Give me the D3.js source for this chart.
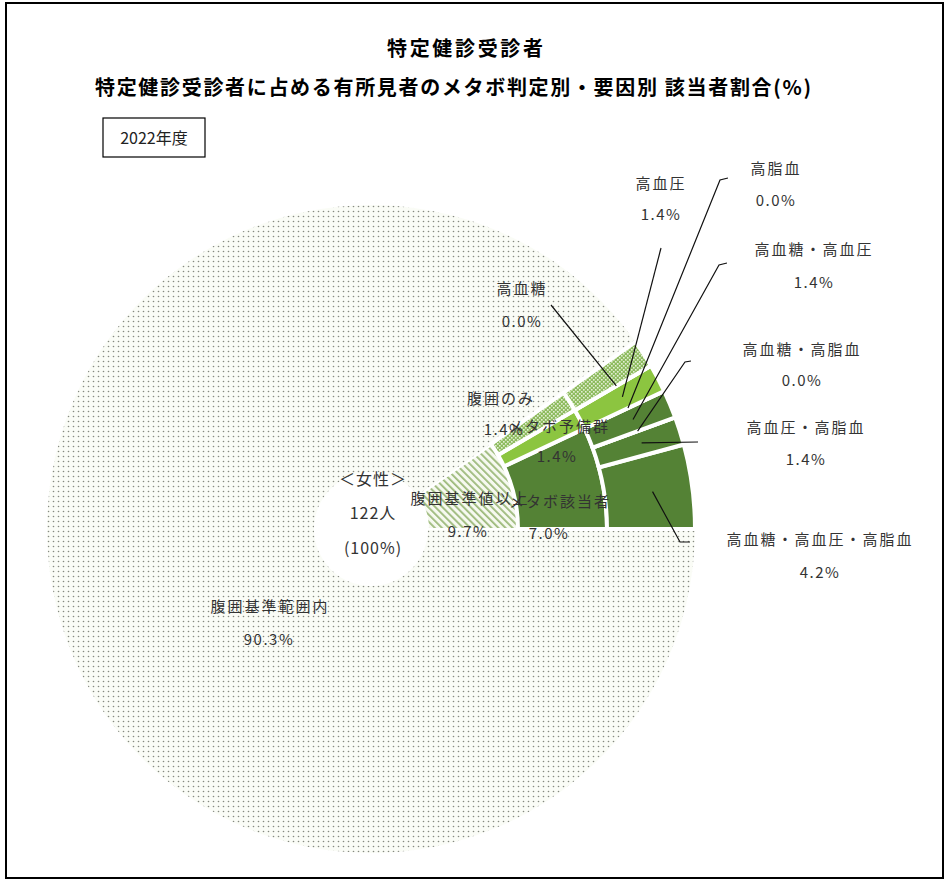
<!DOCTYPE html>
<html>
<head>
<meta charset="utf-8">
<script src="https://cdn.jsdelivr.net/npm/d3@7"></script>
<style>
  body { margin: 0; background: #fff; }
  text { font-family: "Noto Sans CJK JP", "Noto Sans", sans-serif; }
</style>
</head>
<body>
<svg id="chart" width="947" height="881"></svg>
<script>
// ---- data ----
const titleMain = "特定健診受診者";
const titleSub = "特定健診受診者に占める有所見者のメタボ判定別・要因別 該当者割合(%)";
const yearLabel = "2022年度";
const centerLines = ["＜女性＞", "122人", "(100%)"];

// inner ring: waist circumference
const waistCategories = ["腹囲基準値以上", "腹囲基準範囲内"];
const waistValues = [9.7, 90.3];

// middle ring: metabolic syndrome judgement
const judgeCategories = ["メタボ該当者", "メタボ予備群", "腹囲のみ"];
const judgeValues = [7.0, 1.4, 1.4];

// outer ring: risk factor breakdown
const factorCategories = ["高血糖・高血圧・高脂血", "高血圧・高脂血", "高血糖・高脂血", "高血糖・高血圧",
                          "高脂血", "高血圧", "高血糖", "腹囲のみ"];
const factorValues = [4.2, 1.4, 0.0, 1.4, 0.0, 1.4, 0.0, 1.4];
const factorGroups = ["メタボ該当者", "メタボ該当者", "メタボ該当者", "メタボ該当者",
                      "メタボ予備群", "メタボ予備群", "メタボ予備群", "腹囲のみ"];

// ---- layout ----
const cx = 371, cy = 529;
const rHole = 57, r1 = 147, r2 = 236, r3 = 324;

const svg = d3.select("#chart");
const defs = svg.append("defs");

// fine dot fill
const pDots = defs.append("pattern").attr("id", "dots").attr("patternUnits", "userSpaceOnUse")
  .attr("width", 5).attr("height", 5);
pDots.append("rect").attr("width", 5).attr("height", 5).attr("fill", "#fafcf6");
pDots.append("circle").attr("cx", 2.5).attr("cy", 2.5).attr("r", 0.8).attr("fill", "#85897f");

// diagonal hatch
const pHatch = defs.append("pattern").attr("id", "hatch").attr("patternUnits", "userSpaceOnUse")
  .attr("width", 5).attr("height", 5).attr("patternTransform", "rotate(-45)");
pHatch.append("rect").attr("width", 5).attr("height", 5).attr("fill", "#f6f9f0");
pHatch.append("rect").attr("x", 0).attr("y", 0).attr("width", 1.8).attr("height", 5).attr("fill", "#9cb97a");

// small checker fill
const pCheck = defs.append("pattern").attr("id", "check").attr("patternUnits", "userSpaceOnUse")
  .attr("width", 4).attr("height", 4);
pCheck.append("rect").attr("width", 4).attr("height", 4).attr("fill", "#8dbb5e");
pCheck.append("rect").attr("x", 0).attr("y", 0).attr("width", 1.6).attr("height", 1.6).attr("fill", "#e3efd4");
pCheck.append("rect").attr("x", 2).attr("y", 2).attr("width", 1.6).attr("height", 1.6).attr("fill", "#e3efd4");

const groupFill = {
  "メタボ該当者": "#548235",
  "メタボ予備群": "#8cc540",
  "腹囲のみ": "url(#check)"
};

// frame
svg.append("rect").attr("x", 6).attr("y", 3).attr("width", 937).attr("height", 875)
  .attr("fill", "#fff").attr("stroke", "#000").attr("stroke-width", 2);

// titles
svg.append("text").attr("x", 465).attr("y", 47).attr("text-anchor", "middle")
  .attr("dominant-baseline", "central").attr("font-size", 20).attr("font-weight", "bold")
  .attr("fill", "#000").attr("textLength", 156).attr("lengthAdjust", "spacing").text(titleMain);
svg.append("text").attr("x", 453).attr("y", 86).attr("text-anchor", "middle")
  .attr("dominant-baseline", "central").attr("font-size", 20).attr("font-weight", "bold")
  .attr("fill", "#000").attr("textLength", 716).attr("lengthAdjust", "spacing").text(titleSub);

// year box
svg.append("rect").attr("x", 103).attr("y", 118).attr("width", 102).attr("height", 39)
  .attr("fill", "#fff").attr("stroke", "#000").attr("stroke-width", 1.2);
svg.append("text").attr("x", 154).attr("y", 137).attr("text-anchor", "middle")
  .attr("dominant-baseline", "central").attr("font-size", 16).attr("fill", "#222").text(yearLabel);

// angles: start at 3 o'clock, run counter-clockwise
const pie = d3.pie().sort(null).value(d => d.v)
  .startAngle(Math.PI / 2).endAngle(Math.PI / 2 - 2 * Math.PI);

const withRest = (cats, vals) => {
  const items = cats.map((c, i) => ({ name: c, v: vals[i], i }));
  items.push({ name: null, v: 100 - d3.sum(vals), rest: true });
  return items;
};

const ring1 = pie(waistCategories.map((c, i) => ({ name: c, v: waistValues[i], i })));
const ring2 = pie(withRest(judgeCategories, judgeValues)).filter(d => !d.data.rest);
const ring3 = pie(withRest(factorCategories, factorValues)).filter(d => !d.data.rest);

const g = svg.append("g").attr("transform", `translate(${cx},${cy})`);

// inner ring (the in-range slice spans the full radius)
const arcBig = d3.arc().innerRadius(rHole).outerRadius(r3);
const arcR1 = d3.arc().innerRadius(rHole).outerRadius(r1);
g.append("path").attr("d", arcBig(ring1[1])).attr("fill", "url(#dots)");
g.append("path").attr("d", arcR1(ring1[0])).attr("fill", "url(#hatch)")
  .attr("stroke", "#fff").attr("stroke-width", 2);

// middle ring
const arcR2 = d3.arc().innerRadius(r1).outerRadius(r2);
g.selectAll("path.r2").data(ring2).join("path").attr("class", "r2")
  .attr("d", arcR2)
  .attr("fill", d => groupFill[d.data.name])
  .attr("stroke", "#fff").attr("stroke-width", 4).attr("stroke-linejoin", "miter");

// outer ring
const arcR3 = d3.arc().innerRadius(r2).outerRadius(r3);
g.selectAll("path.r3").data(ring3).join("path").attr("class", "r3")
  .attr("d", arcR3)
  .attr("fill", d => groupFill[factorGroups[d.data.i]])
  .attr("stroke", "#fff").attr("stroke-width", 4).attr("stroke-linejoin", "miter");

// ---- labels ----
const fmt = v => d3.format(".1f")(v) + "%";
const labelColor = "#333";
function twoLine(x, y, name, value, gap = 32) {
  const t = svg.append("g");
  t.append("text").attr("x", x).attr("y", y).attr("text-anchor", "middle")
    .attr("dominant-baseline", "central").attr("font-size", 15).attr("letter-spacing", 2)
    .attr("fill", labelColor).text(name);
  t.append("text").attr("x", x).attr("y", y + gap).attr("text-anchor", "middle")
    .attr("dominant-baseline", "central").attr("font-size", 15).attr("letter-spacing", 1.5)
    .attr("fill", labelColor).text(value);
}

// center
[478, 512, 547].forEach((y, i) => {
  svg.append("text").attr("x", 373).attr("y", y).attr("text-anchor", "middle")
    .attr("dominant-baseline", "central").attr("font-size", 16).attr("letter-spacing", 1)
    .attr("fill", labelColor).text(centerLines[i]);
});

// ring label positions (layout only)
const innerLabelPos = {
  "腹囲基準範囲内": [270, 605],
  "メタボ該当者": [560, 500],
  "腹囲基準値以上": [470, 497],
  "メタボ予備群": [559, 425],
  "腹囲のみ": [501, 397]
};
const valuePos = {
  "腹囲基準範囲内": [269, 638],
  "メタボ該当者": [549, 532],
  "腹囲基準値以上": [468, 530],
  "メタボ予備群": [557, 455],
  "腹囲のみ": [504, 428]
};
function innerLabel(name, value) {
  const [x, y] = innerLabelPos[name];
  const [vx, vy] = valuePos[name];
  svg.append("text").attr("x", x).attr("y", y).attr("text-anchor", "middle")
    .attr("dominant-baseline", "central").attr("font-size", 15).attr("letter-spacing", 2)
    .attr("fill", labelColor).text(name);
  svg.append("text").attr("x", vx).attr("y", vy).attr("text-anchor", "middle")
    .attr("dominant-baseline", "central").attr("font-size", 15).attr("letter-spacing", 1.5)
    .attr("fill", labelColor).text(fmt(value));
}
innerLabel(waistCategories[1], waistValues[1]);
judgeCategories.forEach((c, i) => innerLabel(c, judgeValues[i]));
innerLabel(waistCategories[0], waistValues[0]);

// outer labels with leader lines
const outerLabelPos = [
  { x: 820, y: 538, hook: [[690, 542], [680, 542]], gap: 33 },
  { x: 806, y: 426, hook: [[698, 442]], gap: 32 },
  { x: 802, y: 348, hook: [[691, 361], [685, 362]], gap: 31 },
  { x: 814, y: 248, hook: [[727, 263], [719, 265]], gap: 33 },
  { x: 776, y: 167, hook: [[728, 178], [720, 180]], gap: 32 },
  { x: 661, y: 182, hook: [[661, 248]], gap: 31 },
  { x: 522, y: 287, hook: [[551, 305]], gap: 33 }
];
const arcLeader = d3.arc().innerRadius(284).outerRadius(284);
const line = d3.line();
ring3.slice(0, 7).forEach((d, k) => {
  const L = outerLabelPos[k];
  const [px, py] = arcLeader.centroid(d);
  const pts = L.hook.concat([[cx + px, cy + py]]);
  svg.append("path").attr("d", line(pts)).attr("fill", "none")
    .attr("stroke", "#111").attr("stroke-width", 1.2);
  twoLine(L.x, L.y, d.data.name, fmt(d.data.v), L.gap);
});
</script>
</body>
</html>
